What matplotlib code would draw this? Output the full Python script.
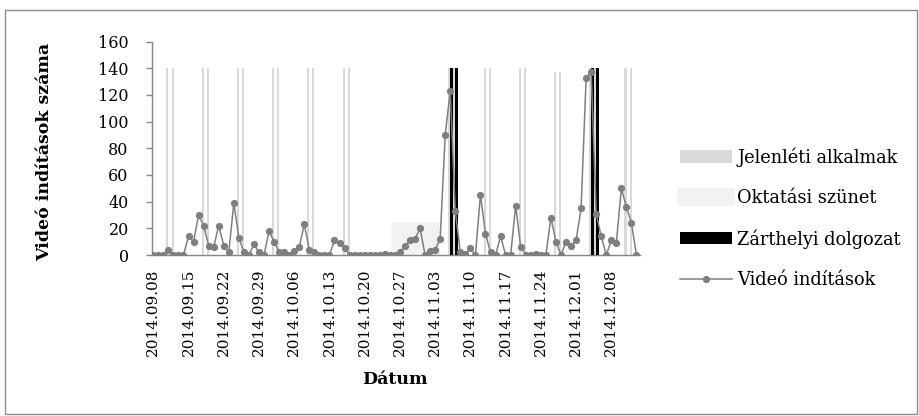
import matplotlib
matplotlib.use("Agg")
import matplotlib.pyplot as plt
import pandas as pd
from matplotlib.patches import Rectangle

plt.rcParams['font.family'] = ['DejaVu Serif']

# daily video starts from 2014.09.08
views = [0, 0, 0, 4, 0, 0, 0, 14, 10, 30,
         22, 7, 6, 22, 7, 2, 39, 13, 2, 0,
         8, 2, 0, 18, 10, 2, 2, 0, 3, 6,
         23, 4, 2, 0, 0, 0, 11, 9, 5, 0,
         0, 0, 0, 0, 0, 0, 1, 0, 0, 2,
         7, 11, 12, 20, 0, 3, 4, 12, 90, 123,
         33, 2, 1, 5, 0, 45, 16, 2, 0, 14,
         0, 0, 37, 6, 0, 0, 1, 0, 0, 28,
         10, 0, 10, 7, 11, 35, 133, 137, 31, 14,
         0, 11, 9, 50, 36, 24, 0]
dates = pd.date_range("2014-09-08", periods=len(views), freq="D")

# class days (day index, bar height)
class_days = [3, 4, 10, 11, 17, 18, 24, 25, 31, 32, 38, 39,
              59, 60, 66, 67, 73, 74, 80, 81, 87, 88, 94, 95]
class_vals = [140, 140, 140, 140, 140, 140, 140, 140, 140, 140, 140, 140,
              140, 140, 140, 140, 140, 140, 137, 137, 140, 140, 140, 140]
# autumn break
break_days = [48, 49, 50, 51, 52, 53, 54, 55, 56]
break_vals = [24, 24, 24, 24, 24, 24, 24, 24, 24]
# written tests
test_days = [59, 60, 87, 88]
test_vals = [140, 140, 140, 140]

labels = ["Jelenléti alkalmak", "Oktatási szünet", "Zárthelyi dolgozat", "Videó indítások"]

fig = plt.figure(figsize=(9.19, 4.16), dpi=100)
ax = fig.add_axes([0.165, 0.387, 0.5314, 0.513])

x = list(range(len(views)))
ax.bar(break_days, break_vals, width=1.0, color="#f2f2f2", edgecolor="#f2f2f2",
       linewidth=2, joinstyle="round", zorder=1, label=labels[1])
ax.bar([d - 0.18 for d in class_days], class_vals, width=0.4, color="#d9d9d9",
       linewidth=0, zorder=2, label=labels[0])
ax.bar([d + 0.3 for d in test_days], test_vals, width=0.53, color="black",
       linewidth=0, zorder=3, label=labels[2])
ax.plot(x, views, color="#7f7f7f", linewidth=1.1, marker="o", markersize=4.2,
        zorder=4, label=labels[3])

ax.set_xlim(-0.33, 96.7)
ax.set_ylim(0, 160)
ax.set_yticks(range(0, 161, 20))
ticks = list(range(0, len(views), 7))
ax.set_xticks(ticks)
ax.set_xticklabels([dates[i].strftime("%Y.%m.%d") for i in ticks], rotation=90)

for side in ["top", "right"]:
    ax.spines[side].set_visible(False)
for side in ["left", "bottom"]:
    ax.spines[side].set_color("#868686")
    ax.spines[side].set_linewidth(1.0)
ax.tick_params(axis="y", direction="out", length=4.5, width=1.0, color="#868686",
               pad=12, labelsize=11.5)
ax.tick_params(axis="x", length=0, pad=10, labelsize=11)

fig.text(45 / 919, 1 - 152 / 416, "Videó indítások száma", rotation=90,
         ha="center", va="center", fontsize=12.5, fontweight="bold")
fig.text(395 / 919, 1 - 380 / 416, "Dátum", ha="center", va="center",
         fontsize=12.5, fontweight="bold")

handles, labs = ax.get_legend_handles_labels()
order = [labs.index(l) for l in labels]
leg = fig.legend([handles[i] for i in order], labels, loc="center left",
                 bbox_to_anchor=(680 / 919, 1 - 218 / 416), frameon=False,
                 fontsize=12.8, handlelength=2.95, handleheight=0.68, handletextpad=0.28,
                 labelspacing=1.25, borderpad=0, borderaxespad=0)
# break patch drawn a bit larger with soft corners
leg.legend_handles[1].set_linewidth(4.5)
leg.legend_handles[1].set_joinstyle("round")

# outer chart border
fig.patches.append(Rectangle((5 / 919, 2 / 416), 912 / 919, 404 / 416,
                             transform=fig.transFigure, fill=False,
                             edgecolor="#8c8c8c", linewidth=1.0))

fig.savefig("out.png", dpi=100)
